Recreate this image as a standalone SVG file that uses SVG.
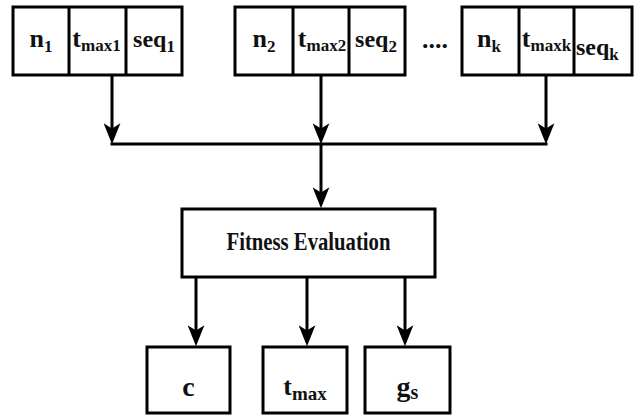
<svg xmlns="http://www.w3.org/2000/svg" width="634" height="416" viewBox="0 0 634 416">
<defs>
<style>
.box{fill:#fff;stroke:#000;stroke-width:3}
.ln{fill:none;stroke:#000;stroke-width:3}
.t{font-family:"Liberation Serif","Times New Roman",serif;font-weight:bold;font-size:26px;fill:#111}
.q{font-size:24px}
.s{font-size:17px}
.m{text-anchor:middle}
</style>
<marker id="ah" viewBox="0 0 20 16" refX="15" refY="8" markerWidth="21" markerHeight="17" markerUnits="userSpaceOnUse" orient="auto">
<path d="M0,0 L20,8 L0,16 L5,8 Z" fill="#000"/>
</marker>
</defs>
<rect width="634" height="416" fill="#fff"/>
<g id="connectors">
<line class="ln" x1="112" y1="75" x2="112" y2="139" marker-end="url(#ah)"/>
<line class="ln" x1="321" y1="75" x2="321" y2="139" marker-end="url(#ah)"/>
<line class="ln" x1="546" y1="75" x2="546" y2="139" marker-end="url(#ah)"/>
<line class="ln" x1="110.5" y1="144" x2="547.5" y2="144"/>
<line class="ln" x1="321" y1="144" x2="321" y2="203" marker-end="url(#ah)"/>
<line class="ln" x1="196" y1="277" x2="196" y2="341" marker-end="url(#ah)"/>
<line class="ln" x1="307" y1="277" x2="307" y2="341" marker-end="url(#ah)"/>
<line class="ln" x1="405" y1="277" x2="405" y2="341" marker-end="url(#ah)"/>
</g>
<g id="chrom1">
<rect class="box" x="13" y="7" width="169" height="68"/>
<line class="ln" x1="69" y1="7" x2="69" y2="75"/>
<line class="ln" x1="126" y1="7" x2="126" y2="75"/>
<text class="t m" x="41" y="47">n<tspan class="s" dy="5">1</tspan></text>
<text class="t m" x="96.5" y="47">t<tspan class="s" dy="4">max1</tspan></text>
<text class="t q m" x="154" y="47">seq<tspan class="s" dy="5">1</tspan></text>
</g>
<g id="chrom2">
<rect class="box" x="235" y="7" width="170" height="68"/>
<line class="ln" x1="293" y1="7" x2="293" y2="75"/>
<line class="ln" x1="349" y1="7" x2="349" y2="75"/>
<text class="t m" x="264" y="47">n<tspan class="s" dy="5">2</tspan></text>
<text class="t m" x="322" y="47">t<tspan class="s" dy="4">max2</tspan></text>
<text class="t q m" x="376" y="47">seq<tspan class="s" dy="5">2</tspan></text>
</g>
<g id="dots">
<text class="t m" x="435" y="48">....</text>
</g>
<g id="chromk">
<rect class="box" x="462" y="7" width="170" height="68"/>
<line class="ln" x1="519" y1="7" x2="519" y2="75"/>
<line class="ln" x1="574" y1="7" x2="574" y2="75"/>
<text class="t m" x="489" y="47">n<tspan class="s" dy="5">k</tspan></text>
<text class="t m" x="546.5" y="47">t<tspan class="s" dy="4">maxk</tspan></text>
<text class="t q" x="576" y="55">seq<tspan class="s" dy="5">k</tspan></text>
</g>
<g id="fitness">
<rect class="box" x="182" y="209" width="253" height="68"/>
<text class="t m" x="308.5" y="250" style="font-size:25px" textLength="164" lengthAdjust="spacingAndGlyphs">Fitness Evaluation</text>
</g>
<g id="out-c">
<rect class="box" x="147" y="347" width="83" height="66"/>
<text class="t m" x="188.5" y="396" style="font-size:28px">c</text>
</g>
<g id="out-tmax">
<rect class="box" x="263" y="347" width="84" height="66"/>
<text class="t m" x="305" y="395" style="font-size:26px">t<tspan style="font-size:19px" dy="5">max</tspan></text>
</g>
<g id="out-gs">
<rect class="box" x="365" y="347" width="85" height="66"/>
<text class="t m" x="407.5" y="396" style="font-size:28px">g<tspan style="font-size:20px" dy="3">s</tspan></text>
</g>
</svg>
